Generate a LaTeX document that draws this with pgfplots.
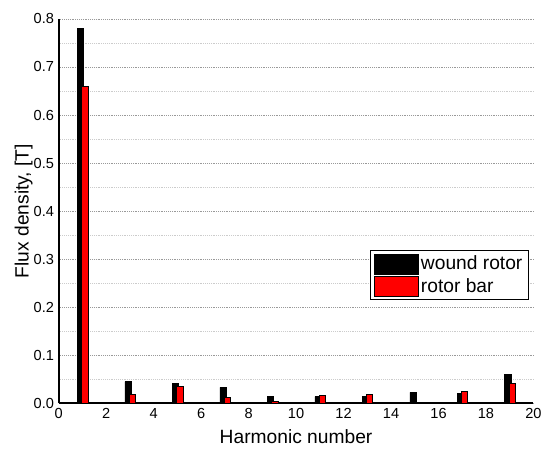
\documentclass[border=0pt]{standalone}
\usepackage{pgfplots}
\pgfplotsset{compat=1.18}
\usepackage{fontspec}
\setmainfont{Liberation Sans}
\begin{document}
\begin{tikzpicture}
\begin{axis}[
  scale only axis,
  width=358.5pt, height=290.25pt,
  xmin=0, xmax=20, ymin=0, ymax=0.8,
  axis x line=bottom, axis y line=left,
  axis line style={line width=1.5pt, -},
  xtick={0,2,...,20},
  ytick={0,0.1,...,0.8},
  minor ytick={0.05,0.15,...,0.75},
  major tick length=0pt, minor tick length=0pt,
  yticklabel style={/pgf/number format/.cd, fixed, fixed zerofill, precision=1},
  /pgf/number format/assume math mode=true,
  tick label style={font=\fontsize{11}{12}\selectfont},
  ymajorgrids, yminorgrids,
  major grid style={gray!80, densely dotted, line width=0.5pt},
  minor grid style={gray!40, densely dotted, line width=0.4pt},
  xlabel={Harmonic number}, ylabel={Flux density, [T]},
  label style={font=\fontsize{14.5}{16}\selectfont},
  xlabel style={yshift=-2pt},
  ylabel style={yshift=-6pt},
  bar width=0.26,
  legend style={at={(rel axis cs:0.99,0.398)}, anchor=north east,
    font=\fontsize{14.5}{16}\selectfont, draw=black, line width=0.6pt,
    row sep=1pt, inner xsep=2.5pt, inner ysep=2pt},
  legend cell align=left,
  legend image code/.code={\draw[#1, line width=0.4pt] (0pt,-7.5pt) rectangle (33pt,7.5pt);},
]
\addplot[ybar, bar shift=-0.08, fill=black, draw=black, line width=0.4pt] coordinates {
 (1,0.78) (3,0.045) (5,0.041) (7,0.033) (9,0.014) (11,0.014) (13,0.014) (15,0.023) (17,0.021) (19,0.060)};
\addplot[ybar, bar shift=0.1, fill=red, draw=black, line width=0.4pt] coordinates {
 (1,0.66) (3,0.019) (5,0.035) (7,0.013) (9,0.0035) (11,0.017) (13,0.019) (15,0.002) (17,0.025) (19,0.042)};
\legend{wound rotor, rotor bar}
\end{axis}
\path (-44.25pt,-33pt) rectangle (365.25pt,304.5pt);
\end{tikzpicture}
\end{document}
